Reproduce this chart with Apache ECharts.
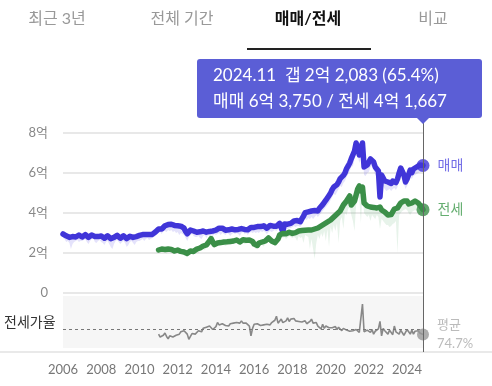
<!DOCTYPE html>
<html><head><meta charset="utf-8">
<script src="https://cdn.jsdelivr.net/npm/echarts@6/dist/echarts.min.js"></script>
<style>html,body{margin:0;padding:0;background:#fff}#c{width:492px;height:386px}</style>
</head><body><div id="c"></div>
<script>
// ---- data ----
const tabs = ['최근 3년', '전체 기간', '매매/전세', '비교'];
const activeTab = 2;
const saleStart = 2006;   // first month: 2006.01
const jeonseStart = 2011; // first month: 2011.01
const xTickYears = [2006, 2008, 2010, 2012, 2014, 2016, 2018, 2020, 2022, 2024];
const yTicks = [0, 2, 4, 6, 8]; // 억
// 매매 (억), monthly 2006.01 - 2024.11
const sale = [
 2.95,2.90,2.86,2.85,2.78,2.76,2.82,2.74,2.80,2.86,2.90,2.84,
 2.80,2.88,2.92,2.84,2.78,2.84,2.90,2.95,2.83,2.76,2.82,2.88,
 2.85,2.78,2.74,2.82,2.86,2.78,2.72,2.68,2.78,2.85,2.88,2.80,
 2.74,2.80,2.86,2.80,2.72,2.78,2.84,2.88,2.78,2.74,2.82,2.86,
 2.88,2.90,2.92,2.90,2.92,2.94,2.92,2.95,2.93,2.96,3.05,3.15,
 3.20,3.25,3.20,3.30,3.36,3.30,3.42,3.36,3.44,3.34,3.38,3.30,
 3.36,3.28,3.34,3.26,3.24,3.08,2.96,3.05,3.15,3.20,3.10,3.06,
 3.04,3.10,3.06,3.02,3.10,3.14,3.04,3.14,3.08,3.16,3.10,3.18,
 3.14,3.22,3.24,3.16,3.24,3.18,3.14,3.22,3.16,3.12,3.20,3.24,
 3.16,3.24,3.18,3.14,3.22,3.28,3.18,3.24,3.16,3.22,3.28,3.22,
 3.28,3.24,3.32,3.24,3.32,3.26,3.36,3.28,3.24,3.32,3.38,3.30,
 3.34,3.40,3.34,3.44,3.48,3.38,3.05,3.45,3.52,3.44,3.54,3.48,
 3.56,3.60,3.52,3.62,3.62,3.56,3.72,3.85,4.02,3.94,4.06,3.98,
 4.10,4.00,4.12,4.20,4.10,4.24,4.30,4.42,4.50,4.64,4.70,4.88,
 5.00,5.18,5.30,5.22,5.42,5.55,5.72,5.62,5.88,6.00,6.22,6.35,
 6.50,6.72,6.75,7.10,7.50,7.30,6.90,7.20,7.50,6.30,6.25,6.40,
 6.45,6.70,6.75,6.55,6.30,6.25,6.10,4.80,5.90,5.75,5.60,5.50,
 5.55,5.62,5.48,5.60,5.62,5.52,5.70,6.00,6.25,6.20,5.90,5.55,
 5.70,5.92,6.15,6.02,6.20,6.25,6.30,6.36,6.40,6.38,6.375
];
// 매매 monthly low (range band)
const saleLow = [
 2.75,2.70,2.55,2.60,2.50,2.20,2.45,2.55,2.60,2.65,2.55,2.60,
 2.60,2.65,2.70,2.55,2.45,2.60,2.70,2.75,2.55,2.50,2.60,2.65,
 2.55,2.50,2.40,2.55,2.60,2.45,2.30,2.20,2.45,2.60,2.65,2.55,
 2.45,2.55,2.60,2.50,2.30,2.40,2.55,2.60,2.50,2.40,2.55,2.60,
 2.60,2.65,2.70,2.60,2.70,2.75,2.65,2.70,2.75,2.80,2.85,2.95,
 3.00,3.05,2.95,3.10,3.10,3.05,3.15,3.10,3.15,3.05,3.10,3.00,
 3.05,2.90,3.00,2.95,2.90,2.75,2.60,2.80,2.90,2.95,2.85,2.80,
 2.80,2.85,2.75,2.70,2.85,2.90,2.75,2.90,2.85,2.90,2.85,2.95,
 2.90,2.95,3.00,2.90,3.00,2.95,2.90,3.00,2.95,2.85,2.95,3.00,
 2.95,3.00,2.95,2.85,3.00,3.05,2.95,3.00,2.90,3.00,3.05,3.00,
 3.05,3.00,3.05,3.00,3.10,3.05,3.10,3.05,2.95,3.05,3.10,3.05,
 3.10,3.15,3.10,3.20,3.25,3.15,2.90,3.20,3.25,3.20,3.25,3.25,
 3.30,3.35,3.30,3.35,3.35,3.30,3.45,3.55,3.70,3.65,3.75,3.70,
 3.80,3.70,3.80,3.90,3.80,3.90,4.00,4.10,4.20,4.30,4.40,4.50,
 4.65,4.80,4.95,4.90,5.05,5.20,5.35,5.30,5.50,5.60,5.80,5.95,
 6.10,6.30,6.35,6.70,7.00,6.90,6.50,6.80,7.00,5.90,5.85,6.00,
 6.05,6.30,6.35,6.15,5.90,5.85,5.70,4.60,5.50,5.35,5.20,5.10,
 5.15,5.20,5.10,5.20,5.25,5.15,5.30,5.60,5.85,5.80,5.50,5.20,
 5.35,5.55,5.80,5.70,5.85,5.90,5.95,6.00,6.05,6.05,6.10
];
// 전세 (억), monthly 2011.01 - 2024.11
const jeonse = [
 2.15,2.18,2.20,2.22,2.18,2.15,2.20,2.22,2.18,2.14,2.10,2.12,
 2.15,2.10,2.08,2.12,2.05,2.02,1.98,2.05,2.10,2.15,2.08,2.12,
 2.20,2.15,2.25,2.30,2.35,2.30,2.40,2.45,2.60,2.72,2.55,2.42,
 2.45,2.50,2.55,2.52,2.58,2.55,2.50,2.56,2.60,2.58,2.62,2.60,
 2.62,2.65,2.60,2.55,2.62,2.66,2.60,2.64,2.68,2.65,2.62,2.58,
 2.45,2.35,2.38,2.50,2.58,2.55,2.48,2.60,2.70,2.75,2.68,2.60,
 2.60,2.52,2.50,2.70,2.90,3.00,2.98,3.02,2.96,3.00,3.04,3.02,
 2.98,3.05,3.02,3.08,3.10,3.06,3.12,3.16,3.14,3.10,3.15,3.18,
 3.15,3.12,3.20,3.18,3.25,3.30,3.35,3.40,3.45,3.50,3.55,3.62,
 3.65,3.72,3.80,3.85,3.95,4.05,4.10,4.25,4.40,4.50,4.60,4.70,
 4.85,4.40,4.30,4.60,4.90,5.20,5.35,5.10,5.30,4.50,4.40,4.35,
 4.40,4.30,4.32,4.28,4.30,4.25,4.35,4.30,4.15,4.10,4.05,3.95,
 3.90,3.88,3.92,3.95,4.20,4.30,4.25,4.35,4.50,4.55,4.60,4.65,
 4.60,4.45,4.40,4.50,4.55,4.60,4.58,4.50,4.40,4.30,4.1667
];
// 전세 monthly low (range band)
const jeonseLow = [
 2.00,2.05,2.05,2.08,2.02,1.98,2.05,2.08,2.02,1.98,1.95,1.98,
 2.00,1.95,1.92,1.98,1.88,1.85,1.80,1.90,1.95,2.00,1.92,1.98,
 2.05,2.00,2.10,2.15,2.20,2.15,2.25,2.30,2.45,2.55,2.40,2.28,
 2.30,2.35,2.40,2.38,2.42,2.40,2.35,2.40,2.45,2.42,2.45,2.45,
 2.45,2.50,2.45,2.40,2.45,2.50,2.45,2.48,2.50,2.50,2.45,2.40,
 2.30,2.20,2.22,2.35,2.42,2.40,2.32,2.45,2.55,2.58,2.50,2.45,
 2.45,2.35,2.35,2.55,2.70,2.80,2.75,2.80,2.70,2.78,2.85,2.80,
 2.75,2.80,2.75,2.60,2.85,2.75,2.80,2.50,2.90,2.85,2.80,2.20,
 2.70,2.20,1.70,2.50,2.90,2.70,3.00,2.80,3.10,2.60,3.20,2.30,
 3.30,3.00,3.40,3.10,3.50,2.50,3.60,3.80,3.20,4.00,3.90,4.20,
 4.30,3.90,3.60,3.10,4.40,4.70,4.80,3.50,4.90,4.00,3.90,3.80,
 3.90,3.60,3.90,3.80,3.70,3.90,3.80,3.20,3.70,3.60,3.50,3.40,
 3.40,3.30,3.35,3.45,3.50,3.60,2.00,3.90,4.00,4.10,4.15,4.20,
 4.15,4.00,3.90,4.05,4.10,4.15,4.10,4.05,3.95,3.90,4.00
];
// 전세가율 (%), monthly 2011.01 - 2024.11
const ratio = [
 66,61,60,64,68,62,58,63,66,61,58,64,
 63,66,70,68,72,74,66,57,62,67,70,66,
 69,72,74,70,76,73,78,75,80,77,74,77,
 79,86,82,80,84,82,81,83,80,84,82,85,
 84,86,83,85,89,85,83,85,82,80,63,76,
 83,81,84,82,81,84,82,80,83,85,82,86,
 84,90,97,85,88,92,86,84,89,94,88,92,
 90,93,89,91,88,90,87,86,89,84,86,88,
 92,85,82,86,80,78,75,83,76,80,78,77,
 80,77,76,79,74,78,75,72,76,74,73,75,
 71,74,72,70,74,73,69,71,118,70,68,73,
 72,69,74,66,71,68,75,88,63,76,72,70,
 66,73,70,65,80,70,68,66,73,71,64,69,
 74,70,66,73,66,71,74,72,68,70,65.4
];
const avgRatio = 74.7;
const tipLine1 = '2024.11  갭 2억 2,083 (65.4%)';
const tipLine2 = '매매 6억 3,750 / 전세 4억 1,667';
const saleName = '매매', jeonseName = '전세', ratioName = '전세가율', avgName = '평균';

// ---- build ----
const BLUE = '#4035d8', GREEN = '#3b8f48';
const xAt = (start, i) => +(start + i / 12).toFixed(5);
const pts = (start, arr) => arr.map((v, i) => [xAt(start, i), v]);
const xMax = xAt(saleStart, sale.length - 1);
const lastSale = pts(saleStart, sale).slice(-1);
const lastJeonse = pts(jeonseStart, jeonse).slice(-1);
const lastRatio = pts(jeonseStart, ratio).slice(-1);
const FONT = 'Lato, "Noto Sans CJK KR", sans-serif';

function band(start, hi, lo, color) {
  return {
    type: 'custom', xAxisIndex: 0, yAxisIndex: 0, silent: true, z: 1, clip: true,
    data: [[start, lo[0]]],
    renderItem: (params, api) => {
      const top = hi.map((v, i) => api.coord([xAt(start, i), v]));
      const bot = lo.map((v, i) => api.coord([xAt(start, i), v])).reverse();
      return {type: 'polygon', shape: {points: top.concat(bot)}, style: {fill: color}};
    }
  };
}

const chart = echarts.init(document.getElementById('c'), null, {renderer: 'canvas'});
chart.setOption({
  animation: false,
  textStyle: {fontFamily: FONT},
  grid: [
    {left: 63, width: 360, top: 133, height: 160},
    {left: 63, width: 360, top: 296, height: 52, show: true, backgroundColor: '#f6f6f6', borderWidth: 0}
  ],
  xAxis: [
    {gridIndex: 0, type: 'value', min: saleStart, max: xMax, show: false},
    {gridIndex: 1, type: 'value', min: saleStart, max: xMax, interval: 2,
     axisLine: {show: false}, axisTick: {show: false}, splitLine: {show: false},
     axisLabel: {color: '#777', fontSize: 13, margin: 15, fontFamily: FONT,
       formatter: v => xTickYears.includes(v) ? String(v) : ''}}
  ],
  yAxis: [
    {gridIndex: 0, type: 'value', min: yTicks[0], max: yTicks[yTicks.length - 1], interval: 2,
     axisLine: {show: false}, axisTick: {show: false},
     splitLine: {lineStyle: {color: '#e8e8e8', width: 2}},
     axisLabel: {color: '#888', fontSize: 13, margin: 15, fontFamily: FONT,
       formatter: v => v === 0 ? '0' : v + '억'}},
    {gridIndex: 1, type: 'value', min: 42, max: 132, show: false}
  ],
  series: [
    band(saleStart, sale, saleLow, 'rgba(95,85,230,0.17)'),
    band(jeonseStart, jeonse, jeonseLow, 'rgba(70,160,90,0.13)'),
    {name: saleName, type: 'line', xAxisIndex: 0, yAxisIndex: 0, data: pts(saleStart, sale), z: 3,
     symbol: 'none', lineStyle: {color: BLUE, width: 5.5, join: 'round', cap: 'round'}},
    {name: jeonseName, type: 'line', xAxisIndex: 0, yAxisIndex: 0, data: pts(jeonseStart, jeonse), z: 3,
     symbol: 'none', lineStyle: {color: GREEN, width: 5.5, join: 'round', cap: 'round'}},
    {type: 'scatter', xAxisIndex: 0, yAxisIndex: 0, data: lastSale, symbolSize: 13, z: 4,
     itemStyle: {color: BLUE}, label: {show: true, position: 'right', distance: 8, formatter: saleName,
       color: '#5048e0', fontSize: 14, fontFamily: FONT}},
    {type: 'scatter', xAxisIndex: 0, yAxisIndex: 0, data: lastJeonse, symbolSize: 13, z: 4,
     itemStyle: {color: GREEN}, label: {show: true, position: 'right', distance: 8, formatter: jeonseName,
       color: '#3f9a4c', fontSize: 14, fontFamily: FONT}},
    {name: ratioName, type: 'line', xAxisIndex: 1, yAxisIndex: 1, data: pts(jeonseStart, ratio),
     symbol: 'none', lineStyle: {color: '#888', width: 1.6},
     markLine: {silent: true, symbol: 'none', label: {show: false},
       lineStyle: {color: '#777', type: [3, 3], width: 1}, data: [{yAxis: avgRatio}]}},
    {type: 'scatter', xAxisIndex: 1, yAxisIndex: 1, data: lastRatio, symbolSize: 12,
     itemStyle: {color: '#999'}, z: 5,
     label: {show: true, position: 'right', distance: 8, formatter: avgName + '\n' + avgRatio + '%',
       color: '#aaa', fontSize: 13, lineHeight: 19, fontFamily: FONT}}
  ],
  graphic: [
    ...tabs.map((t, i) => ({type: 'text', x: [57, 182, 308, 433][i], y: 19,
      style: {text: t, fill: i === activeTab ? '#111' : '#999', fontSize: 16,
        fontWeight: i === activeTab ? 'bold' : 'normal', fontFamily: FONT,
        textAlign: 'center', textVerticalAlign: 'middle'}})),
    {type: 'rect', shape: {x: 247, y: 48, width: 124, height: 2}, style: {fill: '#222'}},
    {type: 'line', shape: {x1: 0, y1: 352, x2: 492, y2: 352}, style: {stroke: '#e2e2e2', lineWidth: 1.5}},
    {type: 'line', shape: {x1: 423.5, y1: 118, x2: 423.5, y2: 352}, style: {stroke: '#666', lineWidth: 1}, z: 10},
    {type: 'rect', shape: {x: 197, y: 59, width: 285, height: 59, r: 3}, style: {fill: '#5b5ed6'}, z: 20},
    {type: 'polygon', shape: {points: [[416, 117], [430, 117], [423, 124]]}, style: {fill: '#5b5ed6'}, z: 20},
    {type: 'text', x: 213, y: 76, z: 21, style: {text: tipLine1, fill: '#fff', fontSize: 17,
      fontFamily: FONT, textVerticalAlign: 'middle'}},
    {type: 'text', x: 213, y: 102, z: 21, style: {text: tipLine2, fill: '#fff', fontSize: 17,
      fontFamily: FONT, textVerticalAlign: 'middle'}},
    {type: 'text', x: 4, y: 322, style: {text: ratioName, fill: '#333', fontSize: 14,
      fontFamily: FONT, textVerticalAlign: 'middle'}}
  ]
});
</script></body></html>
